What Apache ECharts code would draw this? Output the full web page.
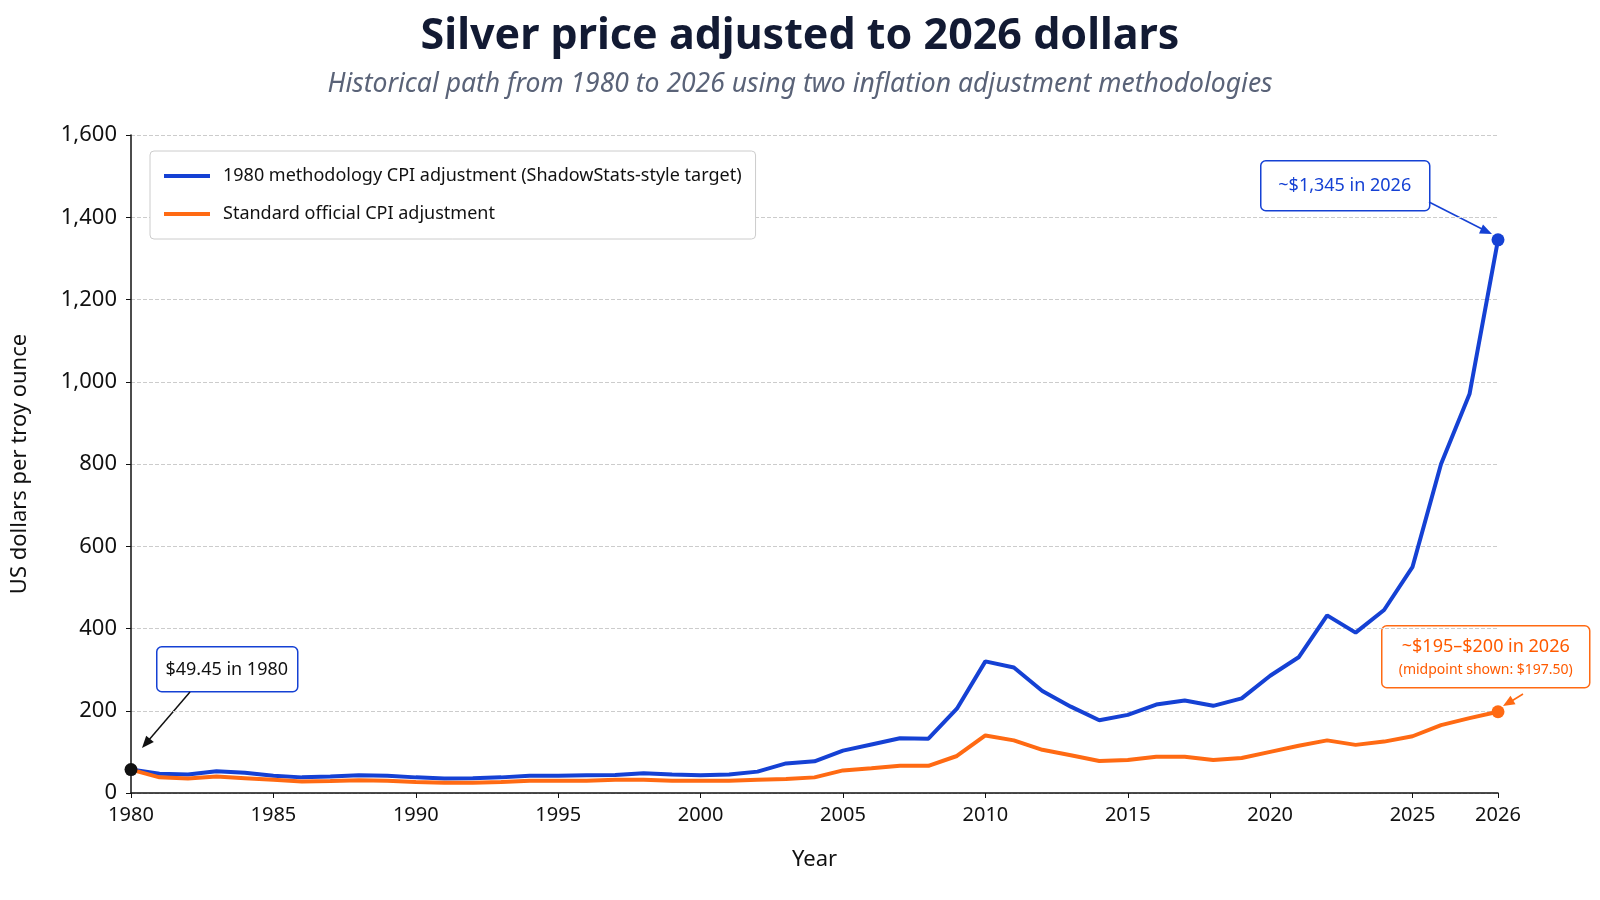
<!DOCTYPE html>
<html><head><meta charset="utf-8">
<script src="https://cdn.jsdelivr.net/npm/echarts@6/dist/echarts.min.js"></script>
<style>html,body{margin:0;padding:0;background:#fff}#c{width:1600px;height:900px}</style>
</head><body><div id="c"></div>
<script>
const years = [];
for (let y = 1980; y <= 2025; y++) years.push(String(y));
const categories = years.concat(['2025b', '2025c', '2026']);
const blueValues = [57,47,45,53,49,42,38,40,43,42,38,35,36,38,42,42,43,44,48,45,
  43,45,52,72,77,103,118,133,132,205,320,305,248,210,177,190,215,225,212,230,
  285,330,432,390,445,550,800,970,1345];
const orangeValues = [57,38,35,40,36,32,28,29,31,30,27,25,25,27,30,30,30,32,32,30,
  30,30,32,34,38,55,60,66,66,90,140,128,105,92,78,80,88,88,80,85,
  100,115,128,117,125,138,165,182,197.5];
const yTicks = {min: 0, max: 1600, interval: 200};

const chart = echarts.init(document.getElementById('c'));
const font = 'Noto Sans';
const showTick = (i, v) => (/^\d+$/.test(v) && (+v % 5 === 0 || v === '2026'));
chart.setOption({
  textStyle: {fontFamily: font},
  title: [
    {text: 'Silver price adjusted to 2026 dollars', left: 'center', top: 10,
     textStyle: {fontSize: 43, fontWeight: 'bold', color: '#121a33', fontFamily: font}},
    {text: 'Historical path from 1980 to 2026 using two inflation adjustment methodologies', left: 'center', top: 66,
     textStyle: {fontSize: 26.5, fontStyle: 'italic', fontWeight: 'normal', color: '#5a6378', fontFamily: font}}
  ],
  legend: {
    orient: 'vertical', left: 150, top: 151, padding: [16, 14, 16, 14], itemGap: 20,
    width: 598, backgroundColor: '#fff', borderColor: '#ccc', borderWidth: 1, borderRadius: 4,
    itemWidth: 46, itemHeight: 4, icon: 'rect',
    textStyle: {fontSize: 18, color: '#111', padding: [0, 300, 0, 8]},
    data: ['1980 methodology CPI adjustment (ShadowStats-style target)', 'Standard official CPI adjustment']
  },
  grid: {left: 131, right: 102, top: 135, bottom: 107},
  xAxis: {
    type: 'category', data: categories, boundaryGap: false,
    name: 'Year', nameLocation: 'middle', nameGap: 56, nameTextStyle: {fontSize: 22, color: '#111'},
    axisLine: {lineStyle: {color: '#111', width: 1.5}},
    axisTick: {show: true, interval: showTick, lineStyle: {color: '#111'}},
    axisLabel: {fontSize: 20, color: '#111', margin: 12, interval: showTick},
    splitLine: {show: false}
  },
  yAxis: {
    type: 'value', min: yTicks.min, max: yTicks.max, interval: yTicks.interval,
    name: 'US dollars per troy ounce', nameLocation: 'middle', nameGap: 100, nameTextStyle: {fontSize: 22, color: '#111'},
    axisLine: {show: true, lineStyle: {color: '#111', width: 1.5}},
    axisTick: {show: true, lineStyle: {color: '#111'}},
    axisLabel: {fontSize: 22, color: '#111', margin: 14, formatter: v => v.toLocaleString('en-US')},
    splitLine: {lineStyle: {color: '#ccc', type: 'dashed'}}
  },
  series: [
    {name: '1980 methodology CPI adjustment (ShadowStats-style target)', type: 'line', data: blueValues,
     showSymbol: false, lineStyle: {color: '#1541d4', width: 4}, itemStyle: {color: '#1541d4'},
     markPoint: {symbol: 'circle', symbolSize: 13, label: {show: false},
       data: [{coord: ['2026', 1345], itemStyle: {color: '#1541d4'}}, {coord: ['1980', 57], itemStyle: {color: '#111'}}]}},
    {name: 'Standard official CPI adjustment', type: 'line', data: orangeValues,
     showSymbol: false, lineStyle: {color: '#ff6a13', width: 4}, itemStyle: {color: '#ff6a13'},
     markPoint: {symbol: 'circle', symbolSize: 13, label: {show: false},
       data: [{coord: ['2026', 197.5], itemStyle: {color: '#ff6a13'}}]}}
  ],
  graphic: [
    {type: 'group', left: 1260, top: 160, children: [
      {type: 'rect', shape: {x: 0, y: 0, width: 169, height: 50, r: 5}, style: {fill: '#fff', stroke: '#1541d4', lineWidth: 1.5}},
      {type: 'text', style: {x: 84, y: 25, text: '~$1,345 in 2026', fill: '#1541d4', font: '18px Noto Sans', align: 'center', verticalAlign: 'middle'}}
    ]},
    {type: 'line', shape: {x1: 1429, y1: 202, x2: 1484, y2: 230}, style: {stroke: '#1541d4', lineWidth: 1.5}},
    {type: 'polygon', shape: {points: [[1492, 234], [1479, 233.5], [1483, 224.5]]}, style: {fill: '#1541d4'}},
    {type: 'group', left: 1381, top: 625, children: [
      {type: 'rect', shape: {x: 0, y: 0, width: 208, height: 62, r: 5}, style: {fill: '#fff', stroke: '#ff6a13', lineWidth: 1.5}},
      {type: 'text', style: {x: 104, y: 21, text: '~$195–$200 in 2026', fill: '#ff5a00', font: '18px Noto Sans', align: 'center', verticalAlign: 'middle'}},
      {type: 'text', style: {x: 104, y: 44, text: '(midpoint shown: $197.50)', fill: '#ff5a00', font: '14px Noto Sans', align: 'center', verticalAlign: 'middle'}}
    ]},
    {type: 'line', shape: {x1: 1523, y1: 694, x2: 1510, y2: 702}, style: {stroke: '#ff6a13', lineWidth: 1.5}},
    {type: 'polygon', shape: {points: [[1503, 706], [1515.5, 704.3], [1510.5, 695.7]]}, style: {fill: '#ff6a13'}},
    {type: 'group', left: 156, top: 646, children: [
      {type: 'rect', shape: {x: 0, y: 0, width: 141, height: 45, r: 5}, style: {fill: '#fff', stroke: '#1541d4', lineWidth: 1.5}},
      {type: 'text', style: {x: 70, y: 23, text: '$49.45 in 1980', fill: '#111', font: '18px Noto Sans', align: 'center', verticalAlign: 'middle'}}
    ]},
    {type: 'line', shape: {x1: 190, y1: 692, x2: 148, y2: 741}, style: {stroke: '#111', lineWidth: 1.5}},
    {type: 'polygon', shape: {points: [[142, 748], [153.8, 742], [146.2, 735.8]]}, style: {fill: '#111'}}
  ]
});
</script></body></html>
